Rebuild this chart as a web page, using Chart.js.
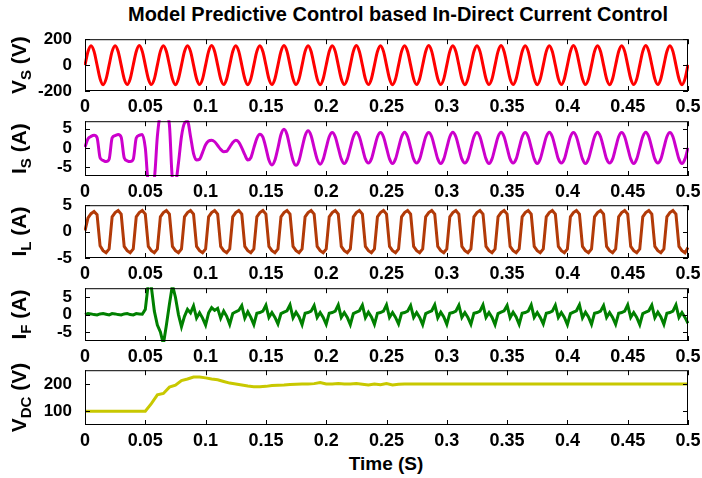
<!DOCTYPE html>
<html>
<head>
<meta charset="utf-8">
<script src="https://cdn.jsdelivr.net/npm/chart.js@4.4.1/dist/chart.umd.min.js"></script>
<style>
  body { margin: 0; background: #fff; font-family: "Liberation Sans", Arial, sans-serif; }
  #page { position: relative; width: 702px; height: 478px; overflow: hidden; }
  .panel { position: absolute; left: 0; width: 702px; }
  .label { position: absolute; font-weight: bold; color: #000; white-space: nowrap; transform: translateX(-50%); }
</style>
</head>
<body>
<div id="page">
  <div class="label" style="left:398px; top:3px; font-size:20px;">Model Predictive Control based In-Direct Current Control</div>
  <div class="label" style="left:386px; top:453px; font-size:19px;">Time (S)</div>
</div>
<script>
// sample spacing of the traced waveforms (seconds)
const T_STEP = 0.0025;
const DC_STEP = 0.005;

const xTicks = [0, 0.05, 0.1, 0.15, 0.2, 0.25, 0.3, 0.35, 0.4, 0.45, 0.5];
const vsTicks = [-200, 0, 200];
const currentTicks = [-5, 0, 5];
const dcTicks = [100, 200];

// source voltage Vs (V), one row per 20 ms cycle
const vsValues = [
  0, 105, 150, 106, 1, -105, -151, -106,
  0, 106, 150, 105, 0, -106, -150, -105,
  1, 105, 151, 106, 0, -105, -150, -106,
  0, 106, 150, 105, 1, -106, -151, -105,
  0, 105, 150, 106, 0, -105, -150, -106,
  0, 106, 151, 105, 0, -106, -150, -105,
  1, 105, 150, 106, 0, -105, -151, -106,
  0, 106, 150, 105, 1, -106, -150, -105,
  0, 105, 151, 106, 0, -105, -150, -106,
  0, 106, 150, 105, 0, -106, -151, -105,
  1, 105, 150, 106, 0, -105, -150, -106,
  0, 106, 151, 105, 1, -106, -150, -105,
  0, 105, 150, 106, 0, -105, -151, -106,
  0, 106, 150, 105, 0, -106, -150, -105,
  1, 105, 151, 106, 0, -105, -150, -106,
  0, 106, 150, 105, 1, -106, -151, -105,
  0, 105, 150, 106, 0, -105, -150, -106,
  0, 106, 151, 105, 0, -106, -150, -105,
  1, 105, 150, 106, 0, -105, -151, -106,
  0, 106, 150, 105, 1, -106, -150, -105,
  0, 105, 151, 106, 0, -105, -150, -106,
  0, 106, 150, 105, 0, -106, -151, -105,
  1, 105, 150, 106, 0, -105, -150, -106,
  0, 106, 151, 105, 1, -106, -150, -105,
  0, 105, 150, 106, 0, -105, -151, -106,
  2
];

// source current Is (A)
const isValues = [
  0.2, 2.4, 3.0, 3.3, 2.7, -2.6, -3.3, -3.6,
  -3.0, 2.6, 3.2, 3.5, 2.8, -2.6, -3.4, -3.6,
  -3.0, 2.6, 3.3, 3.5, 0.0, -9.0, -9.5, -8.0,
  3.0, 9.0, 10.0, 9.0, 6.0, -8.0, -9.0, -4.0,
  3.0, 6.5, 7.0, 3.0, -1.5, -3.2, -3.0, -1.2,
  0.8, 1.8, 2.0, 1.6, 0.6, -0.4, -1.0, -0.9,
  0.2, 1.4, 2.0, 1.5, 0.0, -1.8, -3.2, -2.6,
  0.0, 2.5, 3.6, 2.8, 0.0, -3.2, -4.5, -3.2,
  0.0, 3.5, 4.9, 3.5, 0.0, -3.3, -4.6, -3.3,
  0.0, 3.2, 4.5, 3.2, 0.0, -3.0, -4.3, -3.0,
  0.0, 2.9, 4.0, 2.9, 0.0, -2.9, -4.1, -2.9,
  0.0, 2.9, 4.1, 2.9, 0.0, -2.9, -4.0, -2.9,
  0.0, 2.9, 4.0, 2.9, 0.0, -2.9, -4.1, -2.9,
  0.0, 2.9, 4.1, 2.9, 0.0, -2.9, -4.0, -2.9,
  0.0, 2.9, 4.0, 2.9, 0.0, -2.9, -4.1, -2.9,
  0.0, 2.9, 4.1, 2.9, 0.0, -2.9, -4.0, -2.9,
  0.0, 2.9, 4.0, 2.9, 0.0, -2.9, -4.1, -2.9,
  0.0, 2.9, 4.1, 2.9, 0.0, -2.9, -4.0, -2.9,
  0.0, 2.9, 4.0, 2.9, 0.0, -2.9, -4.1, -2.9,
  0.0, 2.9, 4.1, 2.9, 0.0, -2.9, -4.0, -2.9,
  0.0, 2.9, 4.0, 2.9, 0.0, -2.9, -4.1, -2.9,
  0.0, 2.9, 4.1, 2.9, 0.0, -2.9, -4.0, -2.9,
  0.0, 2.9, 4.0, 2.9, 0.0, -2.9, -4.1, -2.9,
  0.0, 2.9, 4.1, 2.9, 0.0, -2.9, -4.0, -2.9,
  0.0, 2.9, 4.0, 2.9, 0.0, -2.9, -4.1, -2.9,
  0.0
];

// load current IL (A)
const ilValues = [
  0.2, 2.6, 3.4, 3.8, 3.2, -2.7, -3.6, -4.0,
  -3.3, 2.8, 3.6, 4.0, 3.3, -2.8, -3.6, -4.0,
  -3.3, 2.8, 3.6, 4.0, 3.3, -2.8, -3.6, -4.0,
  -3.3, 2.8, 3.6, 4.0, 3.3, -2.8, -3.6, -4.0,
  -3.3, 2.8, 3.6, 4.0, 3.3, -2.8, -3.6, -4.0,
  -3.3, 2.8, 3.6, 4.0, 3.3, -2.8, -3.6, -4.0,
  -3.3, 2.8, 3.6, 4.0, 3.3, -2.8, -3.6, -4.0,
  -3.3, 2.8, 3.6, 4.0, 3.3, -2.8, -3.6, -4.0,
  -3.3, 2.8, 3.6, 4.0, 3.3, -2.8, -3.6, -4.0,
  -3.3, 2.8, 3.6, 4.0, 3.3, -2.8, -3.6, -4.0,
  -3.3, 2.8, 3.6, 4.0, 3.3, -2.8, -3.6, -4.0,
  -3.3, 2.8, 3.6, 4.0, 3.3, -2.8, -3.6, -4.0,
  -3.3, 2.8, 3.6, 4.0, 3.3, -2.8, -3.6, -4.0,
  -3.3, 2.8, 3.6, 4.0, 3.3, -2.8, -3.6, -4.0,
  -3.3, 2.8, 3.6, 4.0, 3.3, -2.8, -3.6, -4.0,
  -3.3, 2.8, 3.6, 4.0, 3.3, -2.8, -3.6, -4.0,
  -3.3, 2.8, 3.6, 4.0, 3.3, -2.8, -3.6, -4.0,
  -3.3, 2.8, 3.6, 4.0, 3.3, -2.8, -3.6, -4.0,
  -3.3, 2.8, 3.6, 4.0, 3.3, -2.8, -3.6, -4.0,
  -3.3, 2.8, 3.6, 4.0, 3.3, -2.8, -3.6, -4.0,
  -3.3, 2.8, 3.6, 4.0, 3.3, -2.8, -3.6, -4.0,
  -3.3, 2.8, 3.6, 4.0, 3.3, -2.8, -3.6, -4.0,
  -3.3, 2.8, 3.6, 4.0, 3.3, -2.8, -3.6, -4.0,
  -3.3, 2.8, 3.6, 4.0, 3.3, -2.8, -3.6, -4.0,
  -3.3, 2.8, 3.6, 4.0, 3.3, -2.8, -3.6, -4.0,
  -3.0
];

// filter current IF (A)
const ifValues = [
  0.0, 0.3, 0.2, 0.0, -0.1, 0.2, 0.3, 0.1,
  -0.1, 0.3, 0.2, 0.0, -0.1, 0.2, 0.3, 0.0,
  -0.1, 0.3, 0.2, 0.1, 1.5, 9.0, 8.0, 1.0,
  -3.0, -5.0, -8.5, -3.0, 3.0, 8.5, 5.0, 0.0,
  -3.5, -0.5, 1.5, 0.5, 2.5, -1.0, 0.5, -1.0,
  -3.0, 0.5, 2.0, 1.2, 1.8, -1.0, 1.0, -0.5,
  -2.8, 0.3, 0.8, 1.2, 2.6, -1.0, 0.8, -0.8,
  -2.9, 0.4, 0.6, 1.0, 2.7, -0.8, 0.6, -0.8,
  -2.7, 0.3, 0.7, 1.1, 2.8, -0.9, 0.7, -0.7,
  -2.9, 0.4, 0.6, 1.0, 2.6, -0.8, 0.6, -0.8,
  -2.8, 0.4, 0.6, 1.0, 2.8, -0.8, 0.6, -0.8,
  -2.9, 0.3, 0.7, 1.1, 2.7, -0.9, 0.7, -0.7,
  -2.8, 0.4, 0.6, 1.0, 2.8, -0.8, 0.6, -0.8,
  -2.7, 0.4, 0.6, 1.0, 2.6, -0.8, 0.6, -0.8,
  -2.9, 0.3, 0.7, 1.1, 2.8, -0.9, 0.7, -0.7,
  -2.8, 0.4, 0.6, 1.0, 2.7, -0.8, 0.6, -0.8,
  -2.8, 0.4, 0.6, 1.0, 2.8, -0.8, 0.6, -0.8,
  -2.9, 0.3, 0.7, 1.1, 2.6, -0.9, 0.7, -0.7,
  -2.8, 0.4, 0.6, 1.0, 2.8, -0.8, 0.6, -0.8,
  -2.7, 0.4, 0.6, 1.0, 2.7, -0.8, 0.6, -0.8,
  -2.9, 0.3, 0.7, 1.1, 2.8, -0.9, 0.7, -0.7,
  -2.8, 0.4, 0.6, 1.0, 2.6, -0.8, 0.6, -0.8,
  -2.8, 0.4, 0.6, 1.0, 2.8, -0.8, 0.6, -0.8,
  -2.9, 0.3, 0.7, 1.1, 2.7, -0.9, 0.7, -0.7,
  -2.8, 0.4, 0.6, 1.0, 2.8, -0.8, 0.6, -0.8,
  -2.5
];

// DC link voltage (V), every 5 ms
const vdcValues = [
  100, 100, 100, 100, 100, 100, 100, 100, 100, 100,
  100, 128, 160, 165, 188, 195, 212, 218, 225, 225,
  222, 218, 215, 209, 203, 200, 196, 192, 190, 190,
  191, 194, 195, 196, 198, 199, 200, 200, 201, 205,
  200, 200, 201, 200, 200, 201, 199, 196, 200, 197,
  201, 196, 199, 200, 200, 200, 200, 200, 200, 200,
  200, 200, 200, 200, 200, 200, 200, 200, 200, 200,
  200, 200, 200, 200, 200, 200, 200, 200, 200, 200,
  200, 200, 200, 200, 200, 200, 200, 200, 200, 200,
  200, 200, 200, 200, 200, 200, 200, 200, 200, 200,
  200
];

const FONT = '"Liberation Sans", Arial, sans-serif';
Chart.defaults.font.family = FONT;
Chart.defaults.color = '#000';

// box with inward ticks on all four sides, plus the rotated y label with subscript
const boxPlugin = {
  id: 'box',
  afterDraw(chart, args, opts) {
    const ctx = chart.ctx;
    const a = chart.chartArea;
    const xs = chart.scales.x, ys = chart.scales.y;
    ctx.save();
    ctx.strokeStyle = '#000';
    ctx.lineWidth = 1;
    ctx.strokeRect(a.left + 0.5, a.top + 0.5, a.right - a.left - 1, a.bottom - a.top - 1);
    ctx.beginPath();
    xs.ticks.forEach(t => {
      const px = Math.round(xs.getPixelForValue(t.value)) + 0.5;
      ctx.moveTo(px, a.bottom); ctx.lineTo(px, a.bottom - 5);
      ctx.moveTo(px, a.top); ctx.lineTo(px, a.top + 5);
    });
    ys.ticks.forEach(t => {
      const py = Math.round(ys.getPixelForValue(t.value)) + 0.5;
      ctx.moveTo(a.left, py); ctx.lineTo(a.left + 5, py);
      ctx.moveTo(a.right, py); ctx.lineTo(a.right - 5, py);
    });
    ctx.stroke();

    // y label
    const mainFont = 'bold 21px ' + FONT, subFont = 'bold 15px ' + FONT;
    ctx.font = mainFont;
    const w1 = ctx.measureText(opts.main).width;
    const w3 = ctx.measureText(opts.unit).width;
    ctx.font = subFont;
    const w2 = ctx.measureText(opts.sub).width;
    const total = w1 + w2 + w3;
    ctx.translate(opts.labelX, (a.top + a.bottom) / 2);
    ctx.rotate(-Math.PI / 2);
    ctx.fillStyle = '#000';
    ctx.textBaseline = 'middle';
    ctx.textAlign = 'left';
    let cx = -total / 2;
    ctx.font = mainFont;
    ctx.fillText(opts.main, cx, 0);
    cx += w1;
    ctx.font = subFont;
    ctx.fillText(opts.sub, cx, 7);
    cx += w2;
    ctx.font = mainFont;
    ctx.fillText(opts.unit, cx, 0);
    ctx.restore();
  }
};

const panels = [
  { values: vsValues, step: T_STEP, color: 'rgb(255,0,0)', smooth: true, yTicks: vsTicks, min: -200, max: 200,
    main: 'V', sub: 'S', unit: ' (V)', top: 38, bottom: 91 },
  { values: isValues, step: T_STEP, color: 'rgb(204,0,204)', smooth: true, yTicks: currentTicks, min: -7.4, max: 7.0,
    main: 'I', sub: 'S', unit: ' (A)', top: 120, bottom: 176 },
  { values: ilValues, step: T_STEP, color: 'rgb(178,58,8)', smooth: false, yTicks: currentTicks, min: -5, max: 5,
    main: 'I', sub: 'L', unit: ' (A)', top: 204, bottom: 258 },
  { values: ifValues, step: T_STEP, color: 'rgb(0,128,0)', smooth: false, yTicks: currentTicks, min: -7.6, max: 7.6,
    main: 'I', sub: 'F', unit: ' (A)', top: 287, bottom: 341 },
  { values: vdcValues, step: DC_STEP, color: 'rgb(200,200,0)', smooth: false, yTicks: dcTicks, min: 50, max: 250,
    main: 'V', sub: 'DC', unit: ' (V)', top: 369, bottom: 425 }
];

const page = document.getElementById('page');
const PAD_TOP = 14, X_AXIS_H = 28;

panels.forEach(p => {
  const h = (p.bottom - p.top) + PAD_TOP + X_AXIS_H;
  const holder = document.createElement('div');
  holder.className = 'panel';
  holder.style.top = (p.top - PAD_TOP) + 'px';
  holder.style.height = h + 'px';
  const canvas = document.createElement('canvas');
  canvas.width = 702;
  canvas.height = h;
  holder.appendChild(canvas);
  page.appendChild(holder);

  new Chart(canvas, {
    type: 'line',
    data: {
      datasets: [{
        data: p.values.map((v, i) => ({ x: i * p.step, y: v })),
        borderColor: p.color,
        borderWidth: 3,
        pointRadius: 0,
        tension: 0,
        cubicInterpolationMode: p.smooth ? 'monotone' : 'default',
        clip: 1
      }]
    },
    options: {
      responsive: false,
      animation: false,
      events: [],
      layout: { padding: { top: PAD_TOP, right: 14, left: 0, bottom: 0 } },
      plugins: {
        legend: { display: false },
        tooltip: { enabled: false },
        box: { main: p.main, sub: p.sub, unit: p.unit, labelX: 20 }
      },
      scales: {
        x: {
          type: 'linear', min: 0, max: 0.5,
          afterBuildTicks: axis => { axis.ticks = xTicks.map(v => ({ value: v })); },
          afterFit: axis => { axis.height = X_AXIS_H; },
          grid: { display: false },
          border: { display: false },
          ticks: { autoSkip: false, maxRotation: 0, padding: -3, font: { size: 18, weight: 'bold' },
                   callback: v => String(v) }
        },
        y: {
          type: 'linear', min: p.min, max: p.max,
          afterBuildTicks: axis => { axis.ticks = p.yTicks.map(v => ({ value: v })); },
          afterFit: axis => { axis.width = 85; },
          grid: { display: false },
          border: { display: false },
          ticks: { autoSkip: false, padding: 5, font: { size: 17, weight: 'bold' }, callback: v => String(v) }
        }
      }
    },
    plugins: [boxPlugin]
  });
});
</script>
</body>
</html>
